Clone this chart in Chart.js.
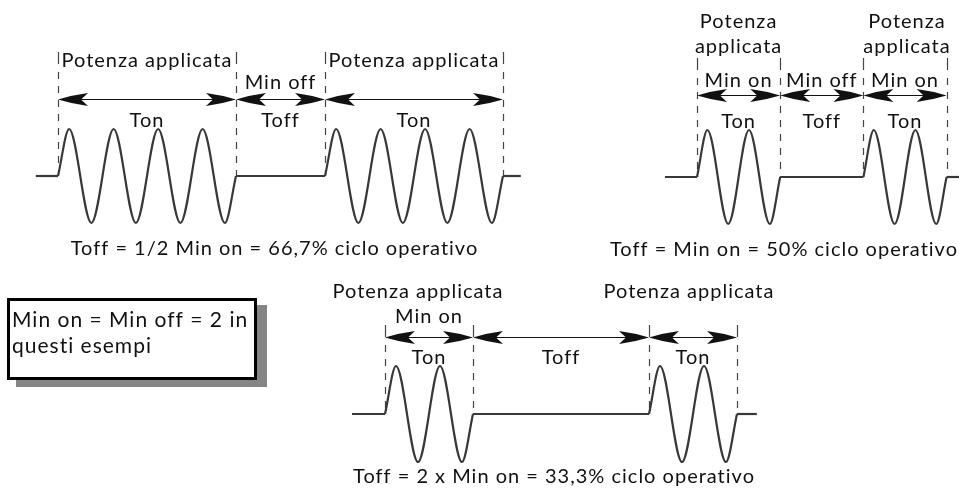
<!DOCTYPE html>
<html>
<head>
<meta charset="utf-8">
<script src="https://cdn.jsdelivr.net/npm/chart.js@4.4.1/dist/chart.umd.min.js"></script>
<style>
  html, body { margin: 0; padding: 0; background: #fff; }
  #wrap { width: 959px; height: 497px; position: relative; }
</style>
</head>
<body>
<div id="wrap"><canvas id="myChart"></canvas></div>
<script>
// Cycles in each segment: on, off, on
const cycles1 = [4, 2, 4];
const cycles2 = [2, 2, 2];
const cycles3 = [2, 4, 2];

// One cycle of the mains wave: up lobe then down lobe
const lobePhases = [0.25, 0.75];
const lobeLevels = [1, -1];

// Labels
const segLabels = ['Ton', 'Toff', 'Ton'];
const minLabels1 = ['', 'Min off', ''];
const minLabels2 = ['Min on', 'Min off', 'Min on'];
const minLabels3 = ['Min on', '', ''];
const powerLabel = 'Potenza applicata';
const captions = [
  'Toff = 1/2 Min on = 66,7% ciclo operativo',
  'Toff = Min on = 50% ciclo operativo',
  'Toff = 2 x Min on = 33,3% ciclo operativo'
];
const noteLines = ['Min on = Min off = 2 in', 'questi esempi'];

// Layout of each example (pixels)
const W = 959, H = 497;
const FONT = '20px Lato';
const NOTE_FONT = '21px Lato';
const panels = [
  { cycles: cycles1, mins: minLabels1, twoLine: false,
    origin: 58, period: 44.5, base: 176, amp: 47, leadIn: 0.5, leadOut: 0.4,
    dashTop: -124, arrowY: -77, minY: -87, tonY: -49, powerY: [-109], powerDx: [0, 0],
    capX: 274.5, capY: 255 },
  { cycles: cycles2, mins: minLabels2, twoLine: true,
    origin: 697, period: 41.6, base: 177, amp: 47, leadIn: 0.77, leadOut: 0.6,
    dashTop: -119, arrowY: -82, minY: -90, tonY: -49, powerY: [-149, -124], powerDx: [0, 2],
    capX: 784, capY: 256 },
  { cycles: cycles3, mins: minLabels3, twoLine: false,
    origin: 385, period: 44, base: 414, amp: 48, leadIn: 0.75, leadOut: 0.45,
    dashTop: -89, arrowY: -77, minY: -91, tonY: -50, powerY: [-116], powerDx: [-11, -4],
    capX: 554, capY: 483 }
];

const lineStyle = {
  showLine: true,
  pointRadius: 0,
  borderColor: '#383838',
  borderWidth: 2.2,
  fill: false
};

function burst(start, n) {
  const pts = [{ x: start, y: 0 }];
  for (let k = 0; k < n; k++) {
    lobePhases.forEach((ph, j) => pts.push({ x: start + k + ph, y: lobeLevels[j] }));
  }
  pts.push({ x: start + n, y: 0 });
  return pts;
}

// Build datasets and scales
const datasets = [];
const scales = {};
panels.forEach((p, i) => {
  const xId = 'x' + (i + 1), yId = 'y' + (i + 1);
  scales[xId] = { type: 'linear', axis: 'x', display: false,
    min: -p.origin / p.period, max: (W - p.origin) / p.period };
  scales[yId] = { type: 'linear', axis: 'y', display: false,
    min: -(H - p.base) / p.amp, max: p.base / p.amp };

  const edges = [0];
  p.cycles.forEach(c => edges.push(edges[edges.length - 1] + c));
  p.edges = edges;

  const ax = { xAxisID: xId, yAxisID: yId };
  datasets.push({ ...lineStyle, ...ax, data: [{ x: -p.leadIn, y: 0 }, { x: 0, y: 0 }] });
  p.cycles.forEach((c, s) => {
    if (s % 2 === 0) {
      datasets.push({ ...lineStyle, ...ax, cubicInterpolationMode: 'monotone', data: burst(edges[s], c) });
    } else {
      datasets.push({ ...lineStyle, ...ax, data: [{ x: edges[s], y: 0 }, { x: edges[s + 1], y: 0 }] });
    }
  });
  const end = edges[edges.length - 1];
  datasets.push({ ...lineStyle, ...ax, data: [{ x: end, y: 0 }, { x: end + p.leadOut, y: 0 }] });
});

function arrowHead(ctx, x, y, dir) {
  const L = 30, hw = 6.5, n = 7;
  ctx.beginPath();
  ctx.moveTo(x, y);
  ctx.quadraticCurveTo(x - dir * L * 0.5, y - hw * 0.7, x - dir * L, y - hw);
  ctx.lineTo(x - dir * (L - n), y);
  ctx.lineTo(x - dir * L, y + hw);
  ctx.quadraticCurveTo(x - dir * L * 0.5, y + hw * 0.7, x, y);
  ctx.closePath();
  ctx.fill();
}

const diagramPlugin = {
  id: 'diagram',
  beforeDatasetsDraw(chart) {
    const ctx = chart.ctx;
    ctx.save();
    ctx.strokeStyle = '#444';
    ctx.lineWidth = 1.2;
    panels.forEach((p, i) => {
      const xs = chart.scales['x' + (i + 1)];
      p.edges.forEach(e => {
        const x = Math.round(xs.getPixelForValue(e)) + 0.5;
        const top = p.base + p.dashTop;
        ctx.setLineDash([]);
        ctx.beginPath();
        ctx.moveTo(x, top);
        ctx.lineTo(x, top + 12);
        ctx.stroke();
        ctx.setLineDash([7, 7]);
        ctx.beginPath();
        ctx.moveTo(x, top + 20);
        ctx.lineTo(x, p.base);
        ctx.stroke();
      });
    });
    ctx.restore();
  },
  afterDatasetsDraw(chart) {
    const ctx = chart.ctx;
    ctx.save();
    ctx.fillStyle = '#111';
    ctx.strokeStyle = '#111';
    ctx.font = FONT;
    ctx.letterSpacing = '1px';
    ctx.textAlign = 'center';
    ctx.textBaseline = 'alphabetic';

    panels.forEach((p, i) => {
      const xs = chart.scales['x' + (i + 1)];
      const px = p.edges.map(e => xs.getPixelForValue(e));
      const ay = Math.round(p.base + p.arrowY) + 0.5;
      p.cycles.forEach((c, s) => {
        const a = px[s], b = px[s + 1], mid = (a + b) / 2;
        // arrow
        ctx.lineWidth = 1.2;
        ctx.beginPath();
        ctx.moveTo(a + 4, ay);
        ctx.lineTo(b - 4, ay);
        ctx.stroke();
        arrowHead(ctx, a, ay, -1);
        arrowHead(ctx, b, ay, 1);
        // labels
        ctx.fillText(segLabels[s], mid, p.base + p.tonY);
        if (p.mins[s]) ctx.fillText(p.mins[s], mid, p.base + p.minY);
        if (s % 2 === 0) {
          const dx = p.powerDx[s / 2];
          if (p.twoLine) {
            powerLabel.split(' ').forEach((w, k) => ctx.fillText(w, mid + dx, p.base + p.powerY[k]));
          } else {
            ctx.fillText(powerLabel, mid + dx, p.base + p.powerY[0]);
          }
        }
      });
      ctx.fillText(captions[i], p.capX, p.capY);
    });

    // note box
    ctx.fillStyle = '#858585';
    ctx.fillRect(16, 305, 251, 82);
    ctx.fillStyle = '#fff';
    ctx.fillRect(7, 298, 250, 82);
    ctx.lineWidth = 3;
    ctx.strokeStyle = '#000';
    ctx.strokeRect(8.5, 299.5, 247, 79);
    ctx.fillStyle = '#111';
    ctx.font = NOTE_FONT;
    ctx.textAlign = 'left';
    noteLines.forEach((t, k) => ctx.fillText(t, 12, 327 + k * 26));
    ctx.restore();
  }
};

const ctx = document.getElementById('myChart').getContext('2d');
const myChart = new Chart(ctx, {
  type: 'scatter',
  data: { datasets },
  options: {
    responsive: true,
    maintainAspectRatio: false,
    animation: false,
    events: [],
    layout: { padding: 0 },
    plugins: {
      legend: { display: false },
      tooltip: { enabled: false }
    },
    scales
  },
  plugins: [diagramPlugin]
});
</script>
</body>
</html>
